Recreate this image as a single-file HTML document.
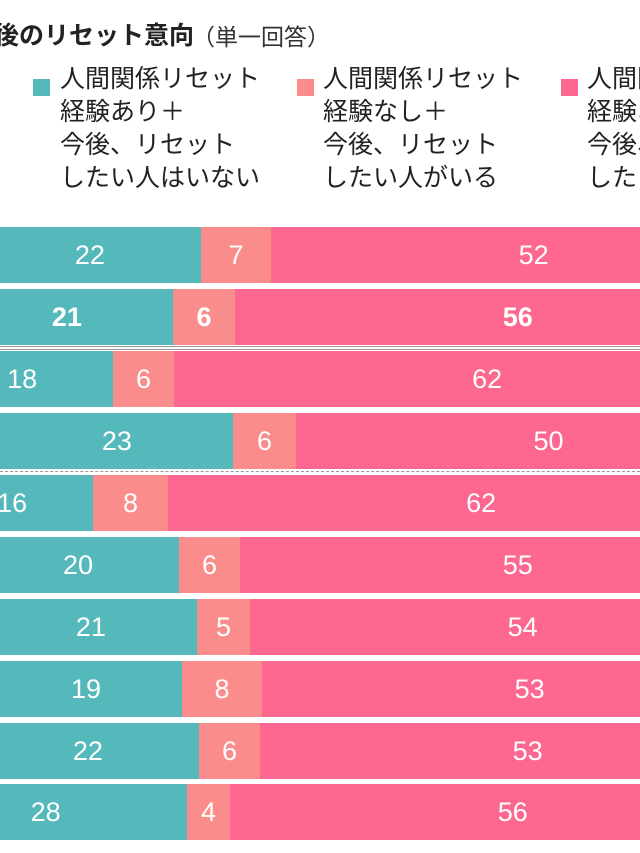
<!DOCTYPE html>
<html><head><meta charset="utf-8"><style>
html,body{margin:0;padding:0;}
body{width:640px;height:853px;overflow:hidden;background:#fff;font-family:"Liberation Sans","Noto Sans CJK JP",sans-serif;}
#w{position:relative;width:640px;height:853px;overflow:hidden;}
.t{position:absolute;white-space:nowrap;color:#222;}
.seg{position:absolute;height:56px;}
.n{position:absolute;color:#fff;font-size:27px;line-height:56px;text-align:center;width:80px;margin-left:-40px;}
.sq{position:absolute;width:17px;height:17px;}
.leg{position:absolute;font-size:25px;line-height:33px;color:#222;white-space:nowrap;}
</style></head><body><div id="w">
<div class="t" style="left:-6px;top:16px;font-size:25px;font-weight:bold;">後のリセット意向</div>
<div class="t" style="left:192px;top:18px;font-size:23px;color:#333;">（単一回答）</div>
<div class="sq" style="left:33px;top:79px;background:#55b8bb"></div>
<div class="leg" style="left:60px;top:63px">人間関係リセット<br>経験あり＋<br>今後、リセット<br>したい人はいない</div>
<div class="sq" style="left:297px;top:79px;background:#fb8c8c"></div>
<div class="leg" style="left:323px;top:63px">人間関係リセット<br>経験なし＋<br>今後、リセット<br>したい人がいる</div>
<div class="sq" style="left:561px;top:79px;background:#fd6790"></div>
<div class="leg" style="left:587px;top:63px">人間関係リセット<br>経験あり＋<br>今後、リセット<br>したい人がいる</div>
<div style="position:absolute;left:0;top:346px;width:640px;height:1px;background:#999"></div>
<div style="position:absolute;left:0;top:349px;width:640px;height:1px;background:#999"></div>
<div style="position:absolute;left:0;top:471px;width:640px;border-top:1px dashed #999"></div>
<div id="bars"></div>
</div>
<script>
var rows=[[227,201,271,22,7,52],[289,173,235,21,6,56],[351,113,174,18,6,62],[413,233,296,23,6,50],[475,93,168,16,8,62],[537,179,240,20,6,55],[599,197,250,21,5,54],[661,182,262,19,8,53],[723,199,260,22,6,53],[784,187,230,28,4,56]];
var h='';
rows.forEach(function(r,i){
 var y=r[0],a=r[1],b=r[2],st=a-r[3]*10.1;
 var fw=i==1?'bold':'normal';
 h+='<div class="seg" style="top:'+y+'px;left:0;width:'+a+'px;background:#55b8bb"></div>';
 h+='<div class="seg" style="top:'+y+'px;left:'+a+'px;width:'+(b-a)+'px;background:#fb8c8c"></div>';
 h+='<div class="seg" style="top:'+y+'px;left:'+b+'px;width:'+(640-b)+'px;background:#fd6790"></div>';
 h+='<div class="n" style="top:'+y+'px;left:'+((st+a)/2)+'px;font-weight:'+fw+'">'+r[3]+'</div>';
 h+='<div class="n" style="top:'+y+'px;left:'+((a+b)/2)+'px;font-weight:'+fw+'">'+r[4]+'</div>';
 h+='<div class="n" style="top:'+y+'px;left:'+(b+r[5]*5.05)+'px;font-weight:'+fw+'">'+r[5]+'</div>';
});
document.getElementById('bars').innerHTML=h;
</script>
</body></html>
